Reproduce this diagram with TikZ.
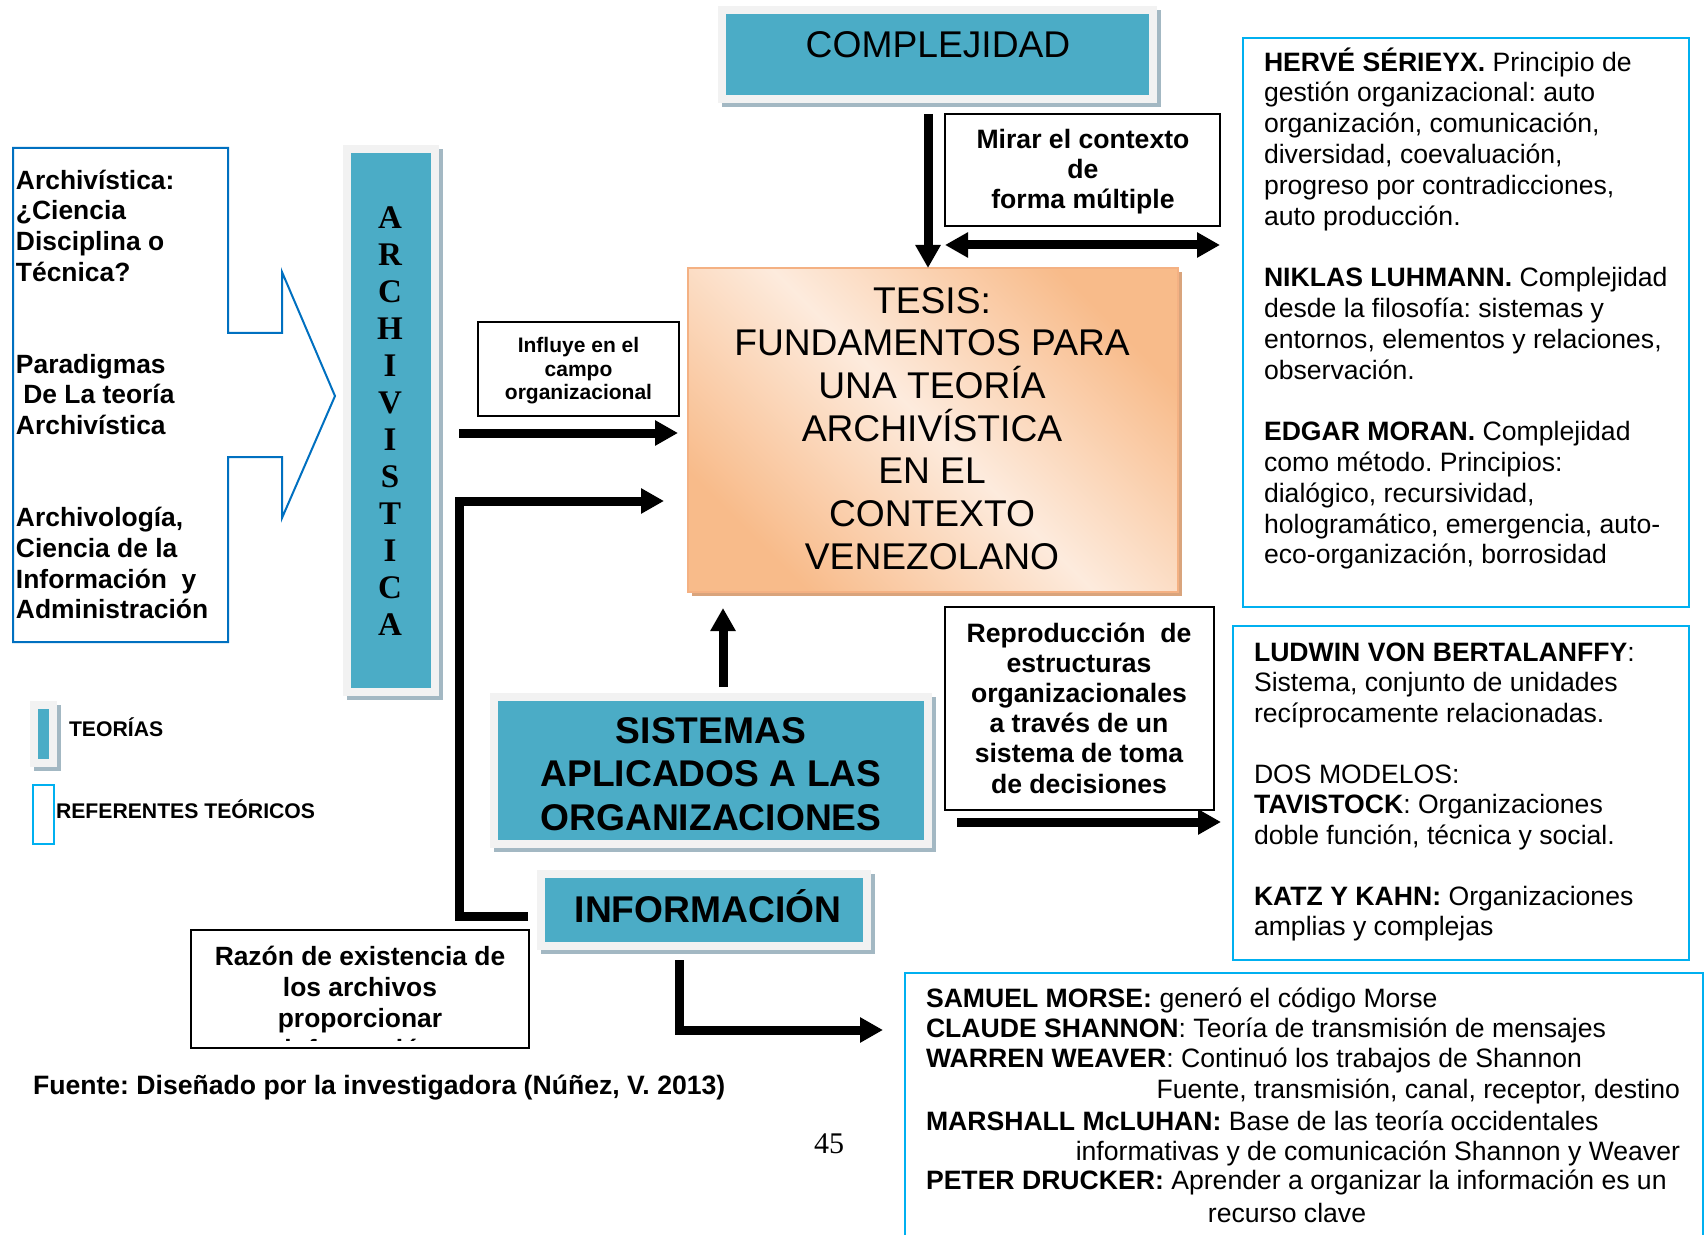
\documentclass[tikz,border=0pt]{standalone}
\usepackage{fontspec}
\setmainfont{Liberation Sans}
\newfontfamily\tnr{Liberation Serif}
\usetikzlibrary{arrows.meta,shadows}
\definecolor{tealc}{HTML}{4BACC6}
\definecolor{gframe}{HTML}{F2F2F2}
\definecolor{shadowc}{HTML}{A3B8C3}
\definecolor{bluec}{HTML}{0070C0}
\definecolor{cyanc}{HTML}{00B0F0}
\definecolor{orng}{HTML}{F8BB8A}
\definecolor{peach}{HTML}{FDEBDD}
\definecolor{tborder}{HTML}{F4B183}
\definecolor{tshadow}{HTML}{D9A47C}
\newcommand\mystrut[1]{\rule{0pt}{#1}}
\newcommand\fsz[2]{\fontsize{#1}{#2}\selectfont\lineskiplimit=-30pt\relax}
\frenchspacing
\begin{document}
\frenchspacing
\begin{tikzpicture}[x=0.5pt,y=-0.5pt,
 every node/.style={inner sep=0pt,outer sep=0pt},
 tframe/.style={rectangle,fill=gframe,
   general shadow={fill=shadowc,shadow xshift=2pt,shadow yshift=-2pt},
   path picture={\fill[tealc] ([shift={(4pt,4pt)}]path picture bounding box.south west) rectangle ([shift={(-4pt,-4pt)}]path picture bounding box.north east);}},
 tesisbox/.style={rectangle,draw=tborder,line width=0.7pt,
   general shadow={fill=tshadow,shadow xshift=2pt,shadow yshift=-2pt},
   top color=orng,bottom color=orng,middle color=peach,shading angle=-45},
 blkbox/.style={rectangle,draw=black,line width=1.2pt,fill=white},
 cyanbox/.style={rectangle,draw=cyanc,line width=1.3pt},
 arr/.style={line width=4.5pt,-{Triangle[length=11.5pt,width=12pt]}},
 darr/.style={line width=4.5pt,{Triangle[length=11.5pt,width=12pt]}-{Triangle[length=11.5pt,width=12pt]}},
 body/.style={font=\fsz{13.3}{15.3}},
]
\fill[white] (0,0) rectangle (1706,1235);
\useasboundingbox (0,0) rectangle (1706,1235);

% ---------- boxes ----------
\node[tframe,minimum width=219.5pt,minimum height=48.5pt] (compl) at (937.5,54.5) {};
\node[anchor=base,font=\fsz{18.6}{22}] (complT) at (938,58) {COMPLEJIDAD};

\node[blkbox,minimum width=137.5pt,minimum height=56pt] (mirar) at (1082.5,170) {};
\node[anchor=north,align=center,font=\bfseries\fsz{13.3}{15}] (mirarT) at (1083,121)
 {\mystrut{14pt}Mirar el contexto\\de\\forma múltiple};

\node[tesisbox,minimum width=245pt,minimum height=162pt] (tesis) at (933,430) {};
\node[anchor=north,align=center,font=\fsz{18.6}{21.35}] (tesisT) at (932,277)
 {\mystrut{18pt}TESIS:\\FUNDAMENTOS PARA\\UNA TEORÍA\\ARCHIVÍSTICA\\EN EL\\CONTEXTO\\VENEZOLANO};

\node[cyanbox,minimum width=223pt,minimum height=284.5pt] (herve) at (1466,322.5) {};
\node[anchor=north west,align=left,font=\fsz{13.3}{15.4}] (herveT) at (1264,43)
 {\mystrut{14pt}\textbf{HERVÉ SÉRIEYX.} Principio de\\gestión organizacional: auto\\organización, comunicación,\\diversidad, coevaluación,\\progreso por contradicciones,\\auto producción.\\[15.4pt]\textbf{NIKLAS LUHMANN.} Complejidad\\desde la filosofía: sistemas y\\entornos, elementos y relaciones,\\observación.\\[15.4pt]\textbf{EDGAR MORAN.} Complejidad\\como método. Principios:\\dialógico, recursividad,\\hologramático, emergencia, auto-\\eco-organización, borrosidad};

\node[tframe,minimum width=48pt,minimum height=275.5pt] (archi) at (391,420.5) {};
\node[anchor=north,align=center,font=\tnr\bfseries\fsz{16.5}{18.5}] (archiT) at (390,200)
 {\mystrut{14pt}A\\R\\C\\H\\I\\V\\I\\S\\T\\I\\C\\A};

\draw[bluec,line width=1pt,line join=miter] (13,148) -- (228,148) -- (228,333) -- (282,333) -- (282,272)
 -- (335,396) -- (282,518) -- (282,457) -- (228,457) -- (228,642) -- (13,642) -- cycle;
\node[anchor=north west,align=left,font=\bfseries\fsz{13.2}{15.35}] (leftT) at (16,161)
 {\mystrut{14pt}Archivística:\\¿Ciencia\\Disciplina o\\Técnica?\\[30.7pt]Paradigmas\\\hspace*{0.28em}De La teoría\\Archivística\\[30.7pt]Archivología,\\Ciencia de la\\Información\ \ y\\Administración};

\node[blkbox,minimum width=100.5pt,minimum height=47pt] (influ) at (578.5,369) {};
\node[anchor=north,align=center,font=\bfseries\fsz{10.5}{12}] (influT) at (578.5,330)
 {\mystrut{11pt}Influye en el\\campo\\organizacional};

\node[tframe,minimum width=221pt,minimum height=77.5pt] (sist) at (711,770.5) {};
\node[anchor=north,align=center,font=\bfseries\fsz{18.6}{21.75}] (sistT) at (711,713)
 {\mystrut{15pt}SISTEMAS\\APLICADOS A LAS\\ORGANIZACIONES};

\node[blkbox,minimum width=134.5pt,minimum height=101.5pt] (repro) at (1079.5,708.5) {};
\node[anchor=north,align=center,font=\bfseries\fsz{13.3}{15.1}] (reproT) at (1079,614)
 {\mystrut{14pt}Reproducción\ \ de\\estructuras\\organizacionales\\a través de un\\sistema de toma\\de decisiones};

\node[cyanbox,minimum width=228pt,minimum height=167pt] (ludwin) at (1461,793) {};
\node[anchor=north west,align=left,font=\fsz{13.3}{15.25}] (ludT) at (1254,633)
 {\mystrut{14pt}\textbf{LUDWIN VON BERTALANFFY}:\\Sistema, conjunto de unidades\\recíprocamente relacionadas.\\[15.25pt]DOS MODELOS:\\\textbf{TAVISTOCK}: Organizaciones\\doble función, técnica y social.\\[15.25pt]\textbf{KATZ Y KAHN:} Organizaciones\\amplias y complejas};

\node[tframe,minimum width=167pt,minimum height=40pt] (info) at (704,910) {};
\node[anchor=base,font=\bfseries\fsz{18.6}{22}] (infoT) at (708,922) {INFORMACIÓN};

\node[blkbox,minimum width=169pt,minimum height=59pt] (razon) at (360,989) {};
\begin{scope}
 \clip (193,932) rectangle (527,1040);
 \node[anchor=north,align=center,font=\bfseries\fsz{13.2}{15.5}] (razonT) at (360,937)
  {\mystrut{14pt}Razón de existencia de\\los archivos\\proporcionar\\información};
\end{scope}

\node[cyanbox,minimum width=399pt,minimum height=163.5pt] (refb) at (1304,1136.5) {};
\node[body,anchor=base west] (m1) at (926,1007) {\textbf{SAMUEL MORSE:} generó el código Morse};
\node[body,anchor=base west] (m2) at (926,1037) {\textbf{CLAUDE SHANNON}: Teoría de transmisión de mensajes};
\node[body,anchor=base west] (m3) at (926,1067) {\textbf{WARREN WEAVER}: Continuó los trabajos de Shannon};
\node[body,anchor=base east] (m4) at (1680,1098) {Fuente, transmisión, canal, receptor, destino};
\node[body,anchor=base west] (m5) at (926,1130) {\textbf{MARSHALL McLUHAN:} Base de las teoría occidentales};
\node[body,anchor=base east] (m6) at (1680,1160) {informativas y de comunicación Shannon y Weaver};
\node[body,anchor=base west] (m7) at (926,1189) {\textbf{PETER DRUCKER:} Aprender a organizar la información es un};
\node[body,anchor=base] (m8) at (1287,1222) {recurso clave};

% ---------- legend ----------
\node[tframe,minimum width=13.5pt,minimum height=33pt] (legT) at (43.5,734) {};
\node[anchor=base west,font=\bfseries\fsz{10.6}{12}] (legTT) at (69,736) {TEORÍAS};
\node[cyanbox,line width=1pt,minimum width=10.5pt,minimum height=29.5pt] (legR) at (43.5,814.5) {};
\node[anchor=base west,font=\bfseries\fsz{10.6}{12}] (legRT) at (56,818) {REFERENTES TEÓRICOS};

\node[anchor=base west,font=\bfseries\fsz{13.3}{15}] (fuente) at (33,1094) {Fuente: Diseñado por la investigadora (Núñez, V. 2013)};
\node[anchor=base,font=\tnr\fsz{15}{17}] (page) at (829,1153) {45};

% ---------- connectors ----------
\draw[arr,shorten <=5.5pt] (compl.south -| 928,0) -- (tesis.north -| 928,0);
\draw[darr] ([yshift=-9.5pt]mirar.south west) -- ([yshift=-9.5pt]mirar.south east);
\draw[arr,shorten <=10pt,shorten >=5pt] (archi.east |- 0,433) -- (tesis.west |- 0,433);
\coordinate (bend) at (459,501);
\draw[arr,shorten <=4.5pt,shorten >=12pt] (info.west |- 0,916) -| (bend) -- (tesis.west |- bend);
\draw[arr,shorten <=3pt,shorten >=8pt] (sist.north -| 723,0) -- (tesis.south -| 723,0);
\draw[arr,shorten <=6pt,shorten >=6pt] (repro.west |- 0,822) -- (ludwin.west |- 0,822);
\draw[arr,shorten <=5pt,shorten >=11pt] (info.south -| 679,0) |- (refb.west |- 0,1030);
\end{tikzpicture}
\end{document}
